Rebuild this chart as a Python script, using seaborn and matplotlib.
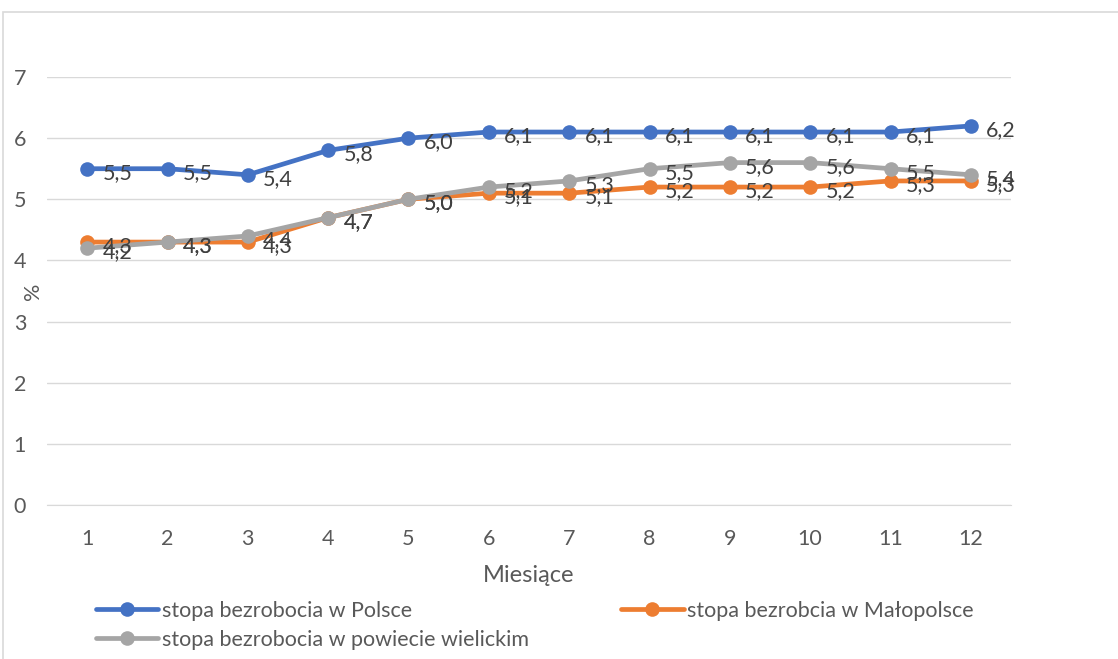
import matplotlib
matplotlib.use("agg")
import matplotlib.pyplot as plt
from matplotlib.patches import Rectangle
import seaborn as sns
import pandas as pd

months = list(range(1, 13))
polska = [5.5, 5.5, 5.4, 5.8, 6.0, 6.1, 6.1, 6.1, 6.1, 6.1, 6.1, 6.2]
malopolska = [4.3, 4.3, 4.3, 4.7, 5.0, 5.1, 5.1, 5.2, 5.2, 5.2, 5.3, 5.3]
wielicki = [4.2, 4.3, 4.4, 4.7, 5.0, 5.2, 5.3, 5.5, 5.6, 5.6, 5.5, 5.4]
names = ["stopa bezrobocia w Polsce",
         "stopa bezrobcia w Małopolsce",
         "stopa bezrobocia w powiecie wielickim"]
colors = ["#4472C4", "#ED7D31", "#A5A5A5"]

df = pd.concat([
    pd.DataFrame({"Miesiące": months, "%": vals, "seria": n})
    for n, vals in zip(names, [polska, malopolska, wielicki])
])

sns.set_style("white")
plt.rcParams["font.family"] = ["Lato", "DejaVu Sans"]
FS = 15.5

fig = plt.figure(figsize=(11.18, 6.59), dpi=100)
ax = fig.add_axes([47 / 1118, 1 - 505 / 659, (1011 - 47) / 1118, (505 - 77) / 659])

sns.lineplot(data=df, x="Miesiące", y="%", hue="seria", palette=colors,
             marker="o", markersize=10.5, markeredgewidth=0, linewidth=3.4,
             dashes=False, ax=ax, legend=True)

# data labels, Excel style (right of point)
for n, vals, c in zip(names, [polska, malopolska, wielicki], colors):
    for m, v in zip(months, vals):
        ax.annotate(f"{v:.1f}".replace(".", ","), (m, v), xytext=(11, -3),
                    textcoords="offset points", va="center", ha="left",
                    fontsize=FS, color="#404040")

ax.set_xlim(0.5, 12.5)
ax.set_ylim(0, 7)
ax.set_xticks(months)
ax.set_yticks(range(0, 8))
ax.grid(axis="y", color="#D9D9D9", linewidth=1)
ax.set_axisbelow(True)
for s in ["top", "right", "left"]:
    ax.spines[s].set_visible(False)
ax.spines["bottom"].set_color("#D9D9D9")
ax.tick_params(axis="both", length=0, labelsize=FS, labelcolor="#595959")
ax.tick_params(axis="x", pad=17)
ax.tick_params(axis="y", pad=24)
for lab in ax.get_yticklabels():
    lab.set_horizontalalignment("left")
ax.set_xlabel("Miesiące", fontsize=17, color="#595959", labelpad=12)
ax.set_ylabel("%", fontsize=FS, color="#595959")
ax.yaxis.set_label_coords(-0.004, 0.5)

handles, labels = ax.get_legend_handles_labels()
order = [0, 2, 1]
ax.legend([handles[i] for i in order], [labels[i] for i in order], ncol=2,
          loc="upper left", bbox_to_anchor=(96 / 1118, 1 - 601 / 659),
          bbox_transform=fig.transFigure, frameon=False, fontsize=FS,
          handlelength=2.9, handletextpad=0.15, columnspacing=4.3,
          labelspacing=0.4, borderaxespad=0, borderpad=0,
          labelcolor="#595959")

fig.patches.append(Rectangle((3 / 1118, -0.1), 1.2, 1 - 12 / 659 + 0.1,
                             transform=fig.transFigure, fill=False,
                             edgecolor="#D9D9D9", linewidth=1.2))

fig.savefig("out.png", dpi=100)
